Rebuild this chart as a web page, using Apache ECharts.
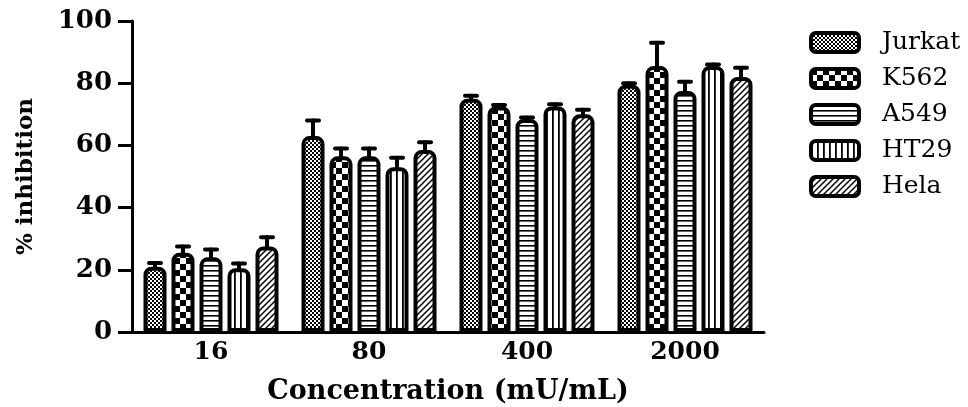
<!DOCTYPE html>
<html>
<head>
<meta charset="utf-8">
<script src="https://cdn.jsdelivr.net/npm/echarts@6/dist/echarts.min.js"></script>
<style>
  html, body { margin: 0; padding: 0; background: #fff; }
  #chart { width: 968px; height: 407px; }
</style>
</head>
<body>
<div id="chart"></div>
<script>
// data
const concentrations = ['16', '80', '400', '2000'];
const cellLines = ['Jurkat', 'K562', 'A549', 'HT29', 'Hela'];
const jurkat = [21, 63, 75, 79.5];
const k562 = [25.5, 56.5, 72.5, 85.5];
const a549 = [24, 56.5, 68.5, 77.5];
const ht29 = [20.5, 53, 72.5, 85.5];
const hela = [27.5, 58.5, 70, 82];
const jurkatErr = [1.2, 5, 1, 0.5];
const k562Err = [2, 2.5, 0.5, 7.5];
const a549Err = [2.5, 2.5, 0.5, 3];
const ht29Err = [1.5, 3, 0.7, 0.5];
const helaErr = [3, 2.5, 1.5, 3];

const values = [jurkat, k562, a549, ht29, hela];
const errors = [jurkatErr, k562Err, a549Err, ht29Err, helaErr];

const FONT = '"DejaVu Serif", "Liberation Serif", serif';

function makePattern(w, h, draw){
    const c = document.createElement('canvas');
    c.width = w; c.height = h;
    const ctx = c.getContext('2d');
    ctx.fillStyle = '#fff';
    ctx.fillRect(0, 0, w, h);
    ctx.fillStyle = '#000';
    ctx.strokeStyle = '#000';
    draw(ctx);
    return {image: c, repeat: 'repeat'};
}

const patterns = [
    // fine checker
    makePattern(4, 4, ctx=>{ ctx.fillRect(0,0,2,2); ctx.fillRect(2,2,2,2); }),
    // coarse checker
    makePattern(12, 12, ctx=>{ ctx.fillRect(0,0,6,6); ctx.fillRect(6,6,6,6); }),
    // horizontal lines
    makePattern(4, 5, ctx=>{ ctx.fillRect(0,0,4,1.6); }),
    // vertical lines
    makePattern(6, 4, ctx=>{ ctx.fillRect(0,0,1.8,4); }),
    // diagonal hatch
    makePattern(6, 6, ctx=>{
        ctx.lineWidth = 1.5;
        ctx.beginPath();
        ctx.moveTo(0,6); ctx.lineTo(6,0);
        ctx.moveTo(-3,3); ctx.lineTo(3,-3);
        ctx.moveTo(3,9); ctx.lineTo(9,3);
        ctx.stroke();
    })
];

const BAR_W = 23;
const BAR_STEP = 28;

let myChart = echarts.init(document.getElementById('chart'));

let barSeries = cellLines.map((name, i)=>({
    name: name,
    type: 'bar',
    data: values[i],
    barWidth: BAR_W,
    barGap: ((BAR_STEP - BAR_W) / BAR_W * 100) + '%',
    z: 3,
    itemStyle: {
        color: patterns[i],
        borderColor: '#000',
        borderWidth: 4,
        borderRadius: [6, 6, 0, 0]
    }
}));

let errSeries = cellLines.map((name, i)=>({
    type: 'custom',
    z: 2,
    silent: true,
    data: values[i].map((v, j)=>[j, v, errors[i][j]]),
    renderItem: (params, api)=>{
        const base = api.coord([api.value(0), api.value(1)]);
        const x = base[0] + (i - 2) * BAR_STEP;
        const hi = api.coord([api.value(0), api.value(1) + api.value(2)])[1];
        const style = {stroke: '#000', lineWidth: 4, lineCap: 'round'};
        return {
            type: 'group',
            children: [
                {type: 'line', shape: {x1: x, y1: base[1], x2: x, y2: hi}, style: style},
                {type: 'line', shape: {x1: x - 6, y1: hi, x2: x + 6, y2: hi}, style: style}
            ]
        };
    }
}));

let option = {
    animation: false,
    grid: {
        left: 132,
        right: 204,
        top: 21,
        bottom: 75,
        outerBoundsMode: 'none',
        containLabel: false
    },
    legend: {
        data: cellLines,
        orient: 'vertical',
        left: 804,
        top: 25,
        icon: 'roundRect',
        itemWidth: 48,
        itemHeight: 19,
        itemGap: 11,
        itemStyle: {
            borderColor: '#000',
            borderWidth: 4
        },
        textStyle: {
            fontFamily: FONT,
            fontSize: 25,
            color: '#000',
            padding: [0, 0, 0, 18]
        }
    },
    xAxis: {
        type: 'category',
        data: concentrations,
        name: 'Concentration (mU/mL)',
        nameLocation: 'middle',
        nameGap: 46,
        nameTextStyle: {
            fontFamily: FONT,
            fontWeight: 'bold',
            fontSize: 27,
            color: '#000'
        },
        axisLine: {lineStyle: {color: '#000', width: 3}},
        axisTick: {alignWithLabel: true, length: 9, lineStyle: {color: '#000', width: 3}},
        axisLabel: {
            fontFamily: FONT,
            fontWeight: 'bold',
            fontSize: 25,
            color: '#000',
            margin: 8
        }
    },
    yAxis: {
        type: 'value',
        min: 0,
        max: 100,
        interval: 20,
        name: '% inhibition',
        nameLocation: 'middle',
        nameRotate: 90,
        nameGap: 94,
        nameTextStyle: {
            fontFamily: FONT,
            fontWeight: 'bold',
            fontSize: 23,
            color: '#000'
        },
        splitLine: {show: false},
        axisLine: {show: true, lineStyle: {color: '#000', width: 3}},
        axisTick: {show: true, length: 14, lineStyle: {color: '#000', width: 3}},
        axisLabel: {
            fontFamily: FONT,
            fontWeight: 'bold',
            fontSize: 26,
            color: '#000',
            margin: 20
        }
    },
    series: barSeries.concat(errSeries)
};

myChart.setOption(option);
</script>
</body>
</html>
